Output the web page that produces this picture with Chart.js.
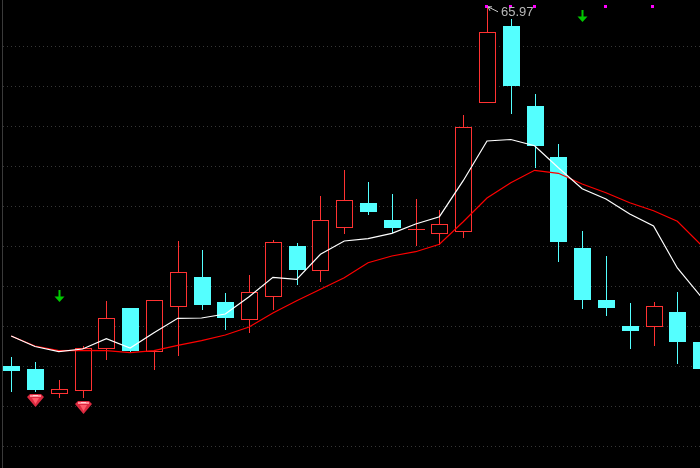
<!DOCTYPE html>
<html>
<head>
<meta charset="utf-8">
<style>
  html, body { margin: 0; padding: 0; background: #000; overflow: hidden; }
  canvas { display: block; }
</style>
<script src="https://cdn.jsdelivr.net/npm/chart.js@4/dist/chart.umd.min.js"></script>
</head>
<body>
<canvas id="kline" width="700" height="468"></canvas>
<script>
// Candles, one entry per session
const sessions = [0,1,2,3,4,5,6,7,8,9,10,11,12,13,14,15,16,17,18,19,20,21,22,23,24,25,26,27,28,29];
const opens  = [30.05,29.75,27.28,27.58,31.78,35.85,31.42,35.98,38.95,36.45,34.65,36.92,42.05,39.58,43.88,46.35,44.65,43.69,43.28,43.42,56.38,64.05,56.05,50.95,41.85,36.65,34.05,33.98,35.45,32.45];
const closes = [29.55,27.65,27.72,31.82,34.82,31.52,36.62,39.45,36.15,34.88,37.42,42.42,39.65,44.62,46.62,45.45,43.85,43.75,44.22,53.95,63.42,58.05,52.05,42.45,36.65,35.85,33.55,36.02,32.45,29.75];
const highs  = [30.92,30.42,28.65,32.05,36.55,35.85,36.62,42.55,41.65,37.35,39.15,42.65,42.32,47.05,49.65,48.45,47.25,46.75,45.65,55.15,65.97,64.75,57.25,52.25,43.55,41.05,36.35,36.45,37.45,32.45];
const lows   = [27.48,27.48,26.88,26.85,30.65,31.35,29.68,31.08,35.65,33.65,33.35,35.65,38.15,38.48,43.25,45.15,43.35,42.05,42.15,42.85,56.38,55.25,49.85,40.45,35.75,35.05,31.75,32.05,30.25,29.75];

// Moving averages
const maWhite = [33.05,32,31.48,31.75,32.78,31.85,33.38,34.82,34.85,35.25,36.98,38.92,38.72,41.22,42.55,42.78,43.32,44.25,44.98,48.58,52.55,52.7,52.08,49.88,47.78,46.75,45.25,44.05,39.85,36.98];
const maRed   = [33.05,32.05,31.58,31.62,31.58,31.38,31.58,32.12,32.58,33.15,33.95,35.35,36.58,37.72,38.88,40.38,41.05,41.48,42.22,44.48,46.85,48.38,49.62,49.32,48.25,47.38,46.38,45.58,44.52,42.15];

// Signal marks
const topDots = [{x:19.96,y:66.1},{x:20.96,y:66.1},{x:21.96,y:66.1},{x:24.96,y:66.1},{x:26.93,y:66.1}];
const greenArrows = [{x:2,y:37.05},{x:24,y:65.05}];
const gems = [{x:1,y:26.65},{x:3,y:25.95}];

const gridPrices = [62,58,54,50,46,42,38,34,30,26,22];
const peakLabel = '65.97';
const peakIndex = 20;

const CYAN = '#54ffff';
const RED = '#ff3232';

// split candles by colour
const isUp = i => closes[i] >= opens[i];
const upIdx = sessions.filter(isUp);
const downIdx = sessions.filter(i => !isUp(i));
const wickData = list => list.map(i => ({x: sessions[i], y: [lows[i], highs[i]]}));
const bodyData = list => list.map(i => ({x: sessions[i], y: [opens[i], closes[i]]}));

function makeArrow() {
    const c = document.createElement('canvas');
    c.width = 11; c.height = 13;
    const g = c.getContext('2d');
    g.fillStyle = '#00c800';
    g.fillRect(4.5, 0, 2, 7);
    g.beginPath();
    g.moveTo(0.5, 6.5); g.lineTo(10.5, 6.5); g.lineTo(5.5, 12);
    g.closePath();
    g.fill();
    return c;
}

function makeGem() {
    const c = document.createElement('canvas');
    c.width = 17; c.height = 13;
    const g = c.getContext('2d');
    g.fillStyle = '#dc2a40';
    g.beginPath();
    g.moveTo(3, 0); g.lineTo(14, 0); g.lineTo(17, 3); g.lineTo(8.5, 13); g.lineTo(0, 3);
    g.closePath();
    g.fill();
    g.fillStyle = '#ff8c98';
    g.fillRect(3, 1, 11, 2);
    g.fillStyle = '#ff5a6a';
    g.beginPath();
    g.moveTo(5, 4); g.lineTo(12, 4); g.lineTo(8.5, 10);
    g.closePath();
    g.fill();
    g.fillStyle = '#ffd0d0';
    g.fillRect(6, 1, 5, 1);
    return c;
}

// keep candles and marks on whole pixels so they stay crisp
const snapPlugin = {
    id: 'snap',
    afterDatasetsUpdate(chart) {
        chart.getSortedVisibleDatasetMetas().forEach(meta => {
            if (meta.type === 'bar') {
                meta.data.forEach(el => {
                    el.x = Math.round(el.x) + 0.5;
                    el.y = Math.round(el.y);
                    el.base = Math.round(el.base);
                    if (el.y === el.base) el.base = el.y + 1;
                });
            } else if (chart.data.datasets[meta.index].showLine === false) {
                meta.data.forEach(el => { el.x = Math.round(el.x) + 0.5; el.y = Math.round(el.y) + 0.5; });
            }
        });
    }
};

// peak price with its little pointer
const peakPlugin = {
    id: 'peakLabel',
    afterDatasetsDraw(chart) {
        const ctx = chart.ctx;
        const x = chart.scales.x.getPixelForValue(peakIndex);
        const y = chart.scales.y.getPixelForValue(highs[peakIndex]);
        ctx.save();
        ctx.strokeStyle = '#c8c8c8';
        ctx.lineWidth = 1;
        ctx.beginPath();
        ctx.moveTo(x + 1, y); ctx.lineTo(x + 11, y + 5);
        ctx.moveTo(x + 1, y); ctx.lineTo(x + 5, y);
        ctx.moveTo(x + 1, y); ctx.lineTo(x + 3, y + 4);
        ctx.stroke();
        ctx.fillStyle = '#b8b8b8';
        ctx.font = '13px "Liberation Sans"';
        ctx.textBaseline = 'middle';
        ctx.fillText(peakLabel, x + 14, y + 6);
        ctx.restore();
    }
};

const wickBar = {type: 'bar', grouped: false, barThickness: 1, borderWidth: 0, inflateAmount: 0, order: 5};
const bodyBar = {type: 'bar', grouped: false, barThickness: 17, borderSkipped: false, inflateAmount: 0, order: 4};
const markPoint = {type: 'line', showLine: false, pointHoverRadius: 0, clip: false, order: 1};

new Chart(document.getElementById('kline'), {
    data: {
        datasets: [
            {...wickBar, data: wickData(upIdx), backgroundColor: RED},
            {...wickBar, data: wickData(downIdx), backgroundColor: CYAN},
            {...bodyBar, data: bodyData(upIdx), backgroundColor: '#000', borderColor: RED, borderWidth: 1},
            {...bodyBar, data: bodyData(downIdx), backgroundColor: CYAN, borderWidth: 0},
            {type: 'line', data: sessions.map(i => ({x: i, y: maRed[i]})), borderColor: '#ff0000', borderWidth: 1.2, pointRadius: 0, tension: 0, order: 3},
            {type: 'line', data: sessions.map(i => ({x: i, y: maWhite[i]})), borderColor: '#ffffff', borderWidth: 1.2, pointRadius: 0, tension: 0, order: 2},
            {...markPoint, data: topDots, pointStyle: 'rect', pointRadius: 2.12, pointBackgroundColor: '#ff00ff', pointBorderWidth: 0},
            {...markPoint, data: greenArrows, pointStyle: makeArrow()},
            {...markPoint, data: gems, pointStyle: makeGem()}
        ]
    },
    options: {
        responsive: false,
        animation: false,
        events: [],
        layout: {padding: {left: 2}, autoPadding: false},
        plugins: {legend: {display: false}, tooltip: {enabled: false}},
        scales: {
            x: {
                type: 'linear',
                display: false,
                offset: false,
                min: -0.3867,
                max: 28.953
            },
            y: {
                min: 19.85,
                max: 66.65,
                afterBuildTicks: axis => { axis.ticks = gridPrices.map(v => ({value: v})); },
                ticks: {display: false},
                border: {display: true, color: '#3a3a3a', width: 1, dash: [1, 3]},
                grid: {color: '#363636', lineWidth: 1, drawTicks: false, tickLength: 0}
            }
        }
    },
    plugins: [snapPlugin, peakPlugin]
});
</script>
</body>
</html>
